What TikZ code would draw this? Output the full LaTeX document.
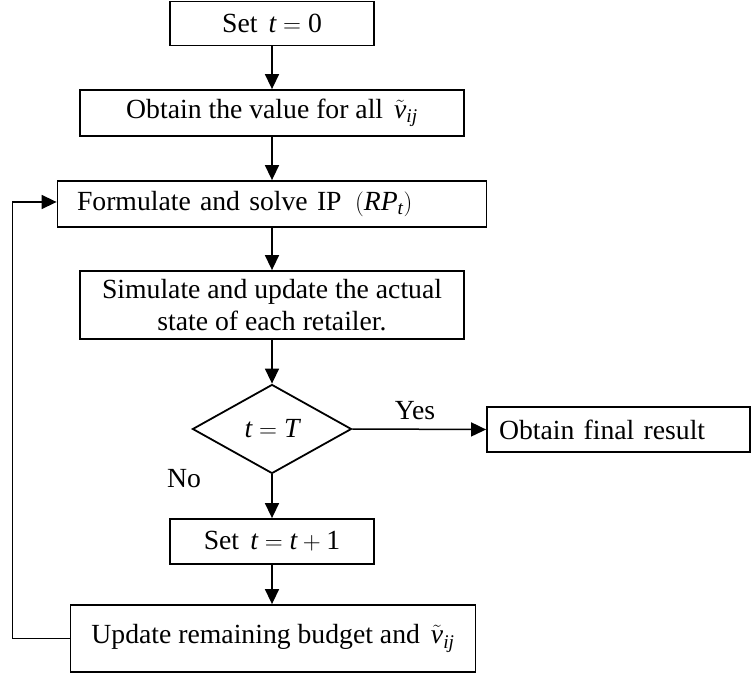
\documentclass[tikz,border=0pt]{standalone}
\usepackage{amsmath}
\usepackage{fontspec}
\setmainfont{Liberation Serif}
\usetikzlibrary{arrows.meta,shapes.geometric}
\begin{document}
\begin{tikzpicture}[x=1pt,y=-1pt,
  every node/.style={font=\fontsize{27.7}{32}\selectfont},
  box/.style={draw,line width=1.8pt,rectangle,inner sep=0pt,align=center},
  dec/.style={draw,line width=1.8pt,diamond,aspect=1.8,inner sep=0pt,minimum width=159pt,minimum height=89pt},
  conn/.style={line width=1.5pt,-{Triangle[length=15pt,width=14pt]}},
  lbl/.style={anchor=base,inner sep=0pt}]
\useasboundingbox (0,0) rectangle (752,676);
\node[box,minimum width=204pt,minimum height=44pt] (b1) at (272,23.5) {Set $\,\textit{t}=\textrm{0}$};
\node[box,minimum width=384pt,minimum height=46pt] (b2) at (272,113) {Obtain the value for all $\,\tilde{\textit{v}}_{\textit{ij}}$};
\node[box,text width=390pt,inner xsep=19.5pt,align=left,minimum height=46pt] (b3) at (272,204) {Formulate and solve IP $\,(\textit{RP}_{\textit{t}})$};
\node[box,minimum width=384pt,minimum height=68pt] (b4) at (272,305) {Simulate and update the actual\\state of each retailer.};
\node[dec] (d) at (272,429) {$\textit{t}=\textit{T}$};
\node[box,text width=239pt,inner xsep=12pt,align=left,minimum height=45pt] (fin) at (618.5,429.5) {Obtain final result};
\node[box,minimum width=204pt,minimum height=45pt] (b7) at (272,541.5) {Set $\,\textit{t}=\textit{t}+\textrm{1}$};
\node[box,minimum width=405pt,minimum height=67pt] (b8) at (273,638.5) {Update remaining budget and $\,\tilde{\textit{v}}_{\textit{ij}}$};
\node[lbl] (yes) at (415,419) {Yes};
\node[lbl] (no) at (184,487) {No};
\coordinate (fb) at (12.5,202);
\draw[conn] (b1) -- (b2);
\draw[conn] (b2) -- (b3);
\draw[conn] (b3) -- (b4);
\draw[conn] (b4) -- (d);
\draw[conn] (d.east) -- (fin.west);
\draw[conn] (d.south) -- (b7);
\draw[conn] (b7.south) -- (b7.south |- b8.north);
\draw[conn] (b8.west) -| (fb) -- (fb -| b3.west);
\end{tikzpicture}
\end{document}
